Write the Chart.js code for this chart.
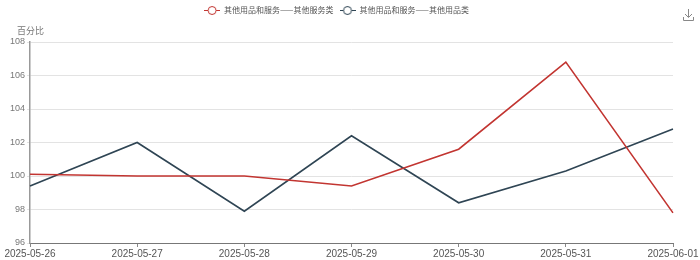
<!DOCTYPE html>
<html>
<head>
<meta charset="utf-8">
<script src="https://cdn.jsdelivr.net/npm/chart.js@4/dist/chart.umd.min.js"></script>
<style>
  html, body { margin: 0; padding: 0; background: #fff; }
  #wrap { width: 700px; height: 260px; position: relative; }
</style>
</head>
<body>
<div id="wrap"><canvas id="chart"></canvas></div>
<script>
// Dates on the x axis
const dates = ["2025-05-26", "2025-05-27", "2025-05-28", "2025-05-29", "2025-05-30", "2025-05-31", "2025-06-01"];

// 其他用品和服务——其他服务类 (red)
const serviceValues = [100.1, 100.0, 100.0, 99.4, 101.6, 106.8, 97.8];
// 其他用品和服务——其他用品类 (slate)
const goodsValues = [99.4, 102.0, 97.9, 102.4, 98.4, 100.3, 102.8];

const seriesNames = ["其他用品和服务——其他服务类", "其他用品和服务——其他用品类"];
const seriesColors = ["#c23531", "#2f4554"];

const yTicks = [96, 98, 100, 102, 104, 106, 108];
const yTitle = "百分比";

const CJK = "'Noto Sans CJK SC', 'Noto Sans', sans-serif";

// legend icon: short line with a hollow circle in the middle
function legendIcon(color) {
  const c = document.createElement("canvas");
  c.width = 16; c.height = 12;
  const g = c.getContext("2d");
  g.strokeStyle = color;
  g.lineWidth = 1;
  g.beginPath(); g.moveTo(0, 6.5); g.lineTo(16, 6.5); g.stroke();
  g.fillStyle = "#fff";
  g.beginPath(); g.arc(8, 6.5, 4, 0, Math.PI * 2); g.fill(); g.stroke();
  return c;
}

// y title + download glyph
const extras = {
  id: "extras",
  beforeInit(chart) {
    const fit = chart.legend.fit;
    chart.legend.fit = function () {
      fit.call(this);
      this.height += 18;
    };
  },
  afterDraw(chart) {
    const g = chart.ctx;
    g.save();
    g.fillStyle = "#777";
    g.font = "9px " + CJK;
    g.textBaseline = "middle";
    g.textAlign = "left";
    g.fillText(yTitle, 17, 31);
    // download icon
    g.strokeStyle = "#888";
    g.lineWidth = 1;
    g.beginPath();
    g.moveTo(688.5, 9); g.lineTo(688.5, 17);
    g.moveTo(685, 14); g.lineTo(688.5, 17.5); g.lineTo(692, 14);
    g.moveTo(683.5, 17); g.lineTo(683.5, 20.5); g.lineTo(693.5, 20.5); g.lineTo(693.5, 17);
    g.stroke();
    g.restore();
  }
};

new Chart(document.getElementById("chart"), {
  type: "line",
  data: {
    labels: dates,
    datasets: [
      {
        label: seriesNames[0],
        data: serviceValues,
        borderColor: seriesColors[0],
        backgroundColor: seriesColors[0],
        borderWidth: 1.6,
        pointRadius: 0,
        pointStyle: legendIcon(seriesColors[0]),
        tension: 0,
      },
      {
        label: seriesNames[1],
        data: goodsValues,
        borderColor: seriesColors[1],
        backgroundColor: seriesColors[1],
        borderWidth: 1.6,
        pointRadius: 0,
        pointStyle: legendIcon(seriesColors[1]),
        tension: 0,
      },
    ],
  },
  options: {
    responsive: true,
    maintainAspectRatio: false,
    animation: false,
    layout: { padding: { left: 0, right: 27, top: 0, bottom: 0 } },
    plugins: {
      legend: {
        position: "top",
        labels: {
          usePointStyle: true,
          pointStyleWidth: 16,
          color: "#555",
          font: { family: CJK, size: 8 },
          padding: 6,
          boxHeight: 12,
        },
      },
      tooltip: { enabled: false },
    },
    scales: {
      x: {
        offset: false,
        grid: { display: true, drawOnChartArea: false, drawTicks: true, tickLength: 4, color: "#888" },
        border: { display: true, color: "#777", width: 1 },
        ticks: {
          color: "#555",
          font: { family: "'Liberation Sans', sans-serif", size: 10 },
          maxRotation: 0,
          autoSkip: false,
          padding: 1,
        },
        afterFit: s => { s.height = 17; },
      },
      y: {
        min: 96,
        max: 108,
        afterBuildTicks: s => { s.ticks = yTicks.map(v => ({ value: v })); },
        grid: { color: "#e3e3e3", tickLength: 3, lineWidth: 1 },
        border: { display: true, color: "#999", width: 1.5 },
        ticks: {
          color: "#777",
          font: { family: "'Liberation Sans', sans-serif", size: 9 },
          padding: 2,
        },
        afterFit: s => { s.width = 30; },
      },
    },
  },
  plugins: [extras],
});
</script>
</body>
</html>
